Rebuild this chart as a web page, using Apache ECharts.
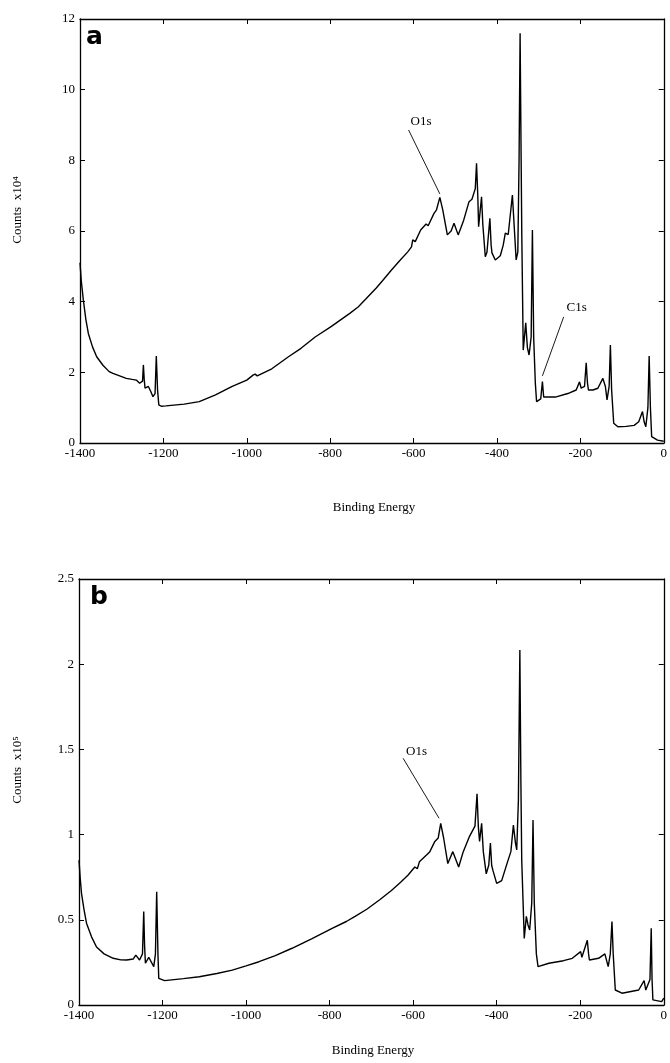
<!DOCTYPE html>
<html><head><meta charset="utf-8">
<script src="https://cdn.jsdelivr.net/npm/echarts@6/dist/echarts.min.js"></script>
<style>html,body{margin:0;padding:0;background:#fff}#c{width:670px;height:1063px}</style>
</head><body><div id="c"></div>
<script>
// Panel a: Binding Energy (eV) vs Counts (x10^4)
const spectrumA = [
 [-1400,5.1],[-1397,4.6],[-1392,4.05],[-1386,3.5],[-1380,3.1],[-1370,2.72],[-1360,2.44],[-1345,2.2],[-1330,2.02],[-1321,1.97],[-1305,1.9],[-1289,1.83],[-1275,1.8],[-1265,1.78],[-1257,1.69],[-1250,1.75],[-1248,2.21],[-1246,1.8],[-1244,1.55],[-1236,1.6],[-1230,1.45],[-1225,1.31],[-1220,1.4],[-1217,2.46],[-1214,1.5],[-1211,1.08],[-1205,1.04],[-1194,1.05],[-1150,1.1],[-1114,1.17],[-1075,1.36],[-1035,1.6],[-1000,1.78],[-985,1.92],[-980,1.95],[-975,1.9],[-940,2.1],[-900,2.44],[-870,2.68],[-836,3.0],[-797,3.3],[-753,3.67],[-733,3.85],[-714,4.08],[-690,4.38],[-674,4.6],[-654,4.88],[-634,5.15],[-614,5.41],[-605,5.55],[-602,5.75],[-596,5.7],[-583,6.03],[-570,6.2],[-565,6.15],[-551,6.5],[-545,6.6],[-537,6.95],[-530,6.6],[-519,5.89],[-510,6.0],[-503,6.22],[-493,5.89],[-480,6.3],[-467,6.83],[-460,6.9],[-452,7.2],[-449,7.92],[-446,7.0],[-444,6.12],[-437,6.97],[-434,6.2],[-428,5.27],[-424,5.4],[-417,6.36],[-414,5.6],[-412,5.38],[-404,5.18],[-392,5.3],[-385,5.6],[-380,5.94],[-373,5.9],[-363,7.02],[-358,6.0],[-354,5.18],[-350,5.4],[-347,8.0],[-344.5,11.6],[-342,8.0],[-340.5,5.94],[-337,2.63],[-331,3.4],[-327,2.7],[-323,2.49],[-318,3.0],[-315,6.03],[-312,3.0],[-308,1.7],[-305,1.17],[-295,1.25],[-291,1.74],[-288,1.3],[-285,1.27],[-260,1.3],[-230,1.4],[-210,1.5],[-202,1.73],[-198,1.55],[-190,1.6],[-186,2.27],[-183,1.7],[-180.6,1.5],[-170,1.5],[-158,1.55],[-146,1.83],[-140,1.6],[-136,1.22],[-131,1.6],[-128,2.77],[-125,1.5],[-120,0.56],[-110,0.46],[-90,0.47],[-71,0.5],[-60,0.6],[-51,0.89],[-47,0.6],[-43,0.46],[-38,1.0],[-35,2.46],[-32,1.0],[-29,0.18],[-15,0.08],[0,0.05]
];
// Panel b: Binding Energy (eV) vs Counts (x10^5)
const spectrumB = [
 [-1400,0.85],[-1397,0.74],[-1394,0.655],[-1388,0.56],[-1382,0.48],[-1370,0.4],[-1358,0.34],[-1340,0.3],[-1318,0.274],[-1300,0.265],[-1286,0.264],[-1270,0.27],[-1264,0.293],[-1255,0.264],[-1248,0.3],[-1245,0.548],[-1243,0.35],[-1241,0.245],[-1233,0.28],[-1221,0.225],[-1217,0.3],[-1214,0.665],[-1211,0.3],[-1209,0.156],[-1195,0.143],[-1150,0.155],[-1112,0.166],[-1070,0.185],[-1033,0.205],[-1000,0.23],[-969,0.254],[-930,0.29],[-890,0.333],[-842,0.39],[-794,0.45],[-760,0.49],[-739,0.52],[-711,0.562],[-680,0.618],[-652,0.672],[-630,0.72],[-612,0.763],[-596,0.81],[-590,0.8],[-585,0.84],[-568,0.88],[-560,0.9],[-548,0.96],[-540,0.98],[-534,1.066],[-527,0.98],[-517,0.83],[-505,0.9],[-491,0.81],[-480,0.9],[-465,0.99],[-452,1.05],[-447,1.24],[-444,1.05],[-441,0.96],[-436,1.066],[-432,0.9],[-425,0.77],[-419,0.82],[-415,0.95],[-412,0.82],[-409,0.79],[-400,0.714],[-388,0.73],[-374,0.84],[-366,0.9],[-360,1.056],[-355,0.95],[-352,0.91],[-348,1.2],[-344.5,2.083],[-342,1.3],[-340,0.85],[-334,0.39],[-329,0.52],[-325,0.47],[-321,0.44],[-316,0.6],[-313,1.086],[-310,0.6],[-305,0.3],[-301,0.225],[-275,0.245],[-240,0.26],[-219,0.274],[-199,0.313],[-196,0.28],[-183,0.38],[-180,0.3],[-178,0.264],[-156,0.274],[-141,0.3],[-133,0.225],[-128,0.3],[-124,0.49],[-121,0.3],[-116,0.088],[-100,0.069],[-60,0.088],[-47,0.143],[-43,0.088],[-33,0.15],[-30,0.45],[-28,0.15],[-26,0.03],[-5,0.02],[0,0.04]
];
// annotation texts and leader lines, in data units
const annotationsA = [
 {text:'O1s', pos:[-582,9.11], from:[-612,8.86], to:[-537,7.05]},
 {text:'C1s', pos:[-209,3.84], from:[-240,3.57], to:[-291,1.9]}
];
const annotationsB = [
 {text:'O1s', pos:[-592,1.49], from:[-624,1.448], to:[-538,1.096]}
];
const xRange = {min:-1400, max:0, interval:200};
const yRangeA = {min:0, max:12, interval:2};
const yRangeB = {min:0, max:2.5, interval:0.5};
const panelLetters = ['a','b'];
const xTitle = 'Binding Energy';
const yTitles = ['Counts  x10\u2074','Counts  x10\u2075'];

const FONT = 'Liberation Serif';
const axisLine = {show:true, onZero:false, lineStyle:{color:'#000', width:1.3}};
function xAx(grid, pos, labels){
  return {type:'value', gridIndex:grid, position:pos, ...xRange,
    axisLine, axisTick:{show:true, inside:true, length:5, lineStyle:{color:'#000', width:1}},
    axisLabel:{show:labels, color:'#000', fontFamily:FONT, fontSize:13, margin:4, formatter:v=>String(v)},
    splitLine:{show:false}};
}
function yAx(grid, pos, range, labels){
  return {type:'value', gridIndex:grid, position:pos, ...range,
    axisLine, axisTick:{show:true, inside:true, length:5, lineStyle:{color:'#000', width:1}},
    axisLabel:{show:labels, color:'#000', fontFamily:FONT, fontSize:13, margin:5, formatter:v=>String(v)},
    splitLine:{show:false}};
}
function annSeries(anns, xi, yi){
  return {type:'line', xAxisIndex:xi, yAxisIndex:yi, data:[], silent:true,
    markLine:{symbol:['none','none'], silent:true, animation:false,
      lineStyle:{color:'#000', width:0.9, type:'solid'}, label:{show:false},
      data: anns.map(a=>[{coord:a.from},{coord:a.to}])},
    markPoint:{symbol:'circle', symbolSize:1, silent:true, animation:false,
      itemStyle:{color:'rgba(0,0,0,0)'},
      label:{show:true, position:'inside', color:'#000', fontFamily:FONT, fontSize:13, formatter:p=>p.name},
      data: anns.map(a=>({name:a.text, coord:a.pos}))}
  };
}
const chart = echarts.init(document.getElementById('c'), null, {renderer:'canvas'});
const textStyle = {fill:'#000', fontFamily:FONT, fontSize:13, align:'center', verticalAlign:'middle'};
chart.setOption({
  animation:false,
  backgroundColor:'#fff',
  grid:[{left:80, top:19, width:588, height:424},{left:79, top:579, width:588, height:426}],
  xAxis:[xAx(0,'bottom',true), xAx(0,'top',false), xAx(1,'bottom',true), xAx(1,'top',false)],
  yAxis:[yAx(0,'left',yRangeA,true), yAx(0,'right',yRangeA,false), yAx(1,'left',yRangeB,true), yAx(1,'right',yRangeB,false)],
  series:[
    {type:'line', xAxisIndex:0, yAxisIndex:0, data:spectrumA, showSymbol:false, lineStyle:{color:'#000', width:1.4}, silent:true},
    {type:'line', xAxisIndex:2, yAxisIndex:2, data:spectrumB, showSymbol:false, lineStyle:{color:'#000', width:1.4}, silent:true},
    annSeries(annotationsA, 0, 0),
    annSeries(annotationsB, 2, 2)
  ],
  graphic:[
    {type:'text', left:86, top:25, style:{text:panelLetters[0], fill:'#000', fontFamily:'DejaVu Sans', fontWeight:'bold', fontSize:25}},
    {type:'text', left:90, top:585, style:{text:panelLetters[1], fill:'#000', fontFamily:'DejaVu Sans', fontWeight:'bold', fontSize:25}},
    {type:'text', x:374, y:508, style:{text:xTitle, ...textStyle}},
    {type:'text', x:373, y:1051, style:{text:xTitle, ...textStyle}},
    {type:'text', x:18, y:210, rotation:Math.PI/2, style:{text:yTitles[0], ...textStyle, fontSize:13}},
    {type:'text', x:18, y:770, rotation:Math.PI/2, style:{text:yTitles[1], ...textStyle, fontSize:13}}
  ]
});
</script></body></html>
